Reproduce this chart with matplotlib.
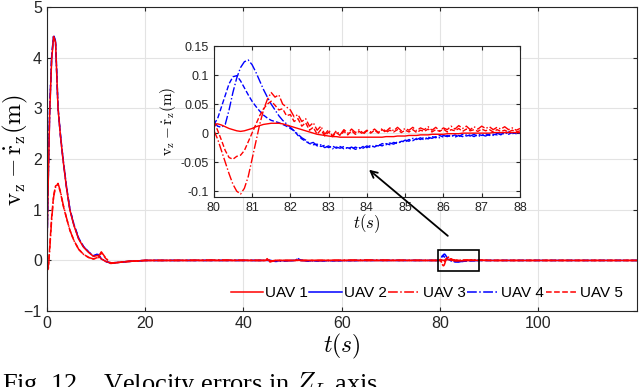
import numpy as np
import matplotlib.pyplot as plt
from matplotlib.lines import Line2D
from matplotlib.patches import Rectangle

plt.rcParams['font.family'] = 'Liberation Sans'
plt.rcParams['mathtext.fontset'] = 'cm'

# time grids
t_early = [0, 0.3, 0.6, 1.0, 1.4, 1.8, 2.3, 2.8, 3.3, 4.0, 4.7, 5.5, 6.5, 7.5,
           8.5, 9.5, 10.4, 11.1, 12.0, 13.0, 14.5, 16.5, 20]
t_mid = [25, 35, 44.5, 45.0, 45.4, 46.5, 50.5, 51.0, 51.6, 53.0, 65, 79.9]
t_zoom = np.round(np.arange(80.0, 88.01, 0.1), 1)
t_late = [90, 100, 110, 120]

# UAV 1 (red solid)
uav1_early = [0, 1.5, 2.9, 3.95, 4.42, 4.3, 3.0, 2.45, 2.0, 1.45, 1.0, 0.7, 0.42, 0.26,
              0.16, 0.08, 0.1, 0.03, -0.02, -0.05, -0.04, -0.02, 0.0]
uav1_mid = [0.0, 0.0, 0.0, 0.01, -0.01, 0.0, 0.0, 0.01, 0.0, 0.0, 0.0, 0.0]
uav1_zoom = [0.015, 0.016, 0.014, 0.011, 0.008, 0.006, 0.004, 0.003, 0.004, 0.006,
             0.008, 0.011, 0.013, 0.015, 0.016, 0.017, 0.017, 0.017, 0.016, 0.014,
             0.012, 0.010, 0.008, 0.006, 0.004, 0.002, 0.000, -0.002, -0.003, -0.004,
             -0.005, -0.006, -0.006, -0.007, -0.007, -0.007, -0.007, -0.007, -0.007, -0.007,
             -0.007, -0.007, -0.007, -0.007, -0.007, -0.006, -0.006, -0.006, -0.005, -0.005,
             -0.005, -0.004, -0.004, -0.004, -0.003, -0.003, -0.003, -0.002, -0.002, -0.002,
             -0.002, -0.001, -0.001, -0.001, -0.001, 0.000, 0.000, 0.000, 0.000, 0.000,
             0.000, 0.000, 0.000, 0.001, 0.001, 0.001, 0.001, 0.001, 0.001, 0.001,
             0.001]
uav1_late = [0.0, 0.0, 0.0, 0.0]

# UAV 2 (blue)
uav2_early = [0, 1.6, 3.0, 4.0, 4.45, 4.32, 3.02, 2.47, 2.02, 1.47, 1.02, 0.72, 0.44, 0.27,
              0.17, 0.09, 0.13, 0.03, -0.02, -0.05, -0.04, -0.02, 0.0]
uav2_mid = [0.0, 0.0, 0.0, 0.0, 0.0, -0.01, 0.0, 0.04, 0.01, -0.01, 0.0, 0.0]
uav2_zoom = [0.015, 0.025, 0.045, 0.065, 0.085, 0.097, 0.099, 0.090, 0.078, 0.066,
             0.055, 0.046, 0.038, 0.031, 0.026, 0.022, 0.020, 0.018, 0.015, 0.012,
             0.008, 0.004, -0.004, -0.010, -0.014, -0.018, -0.020, -0.019, -0.023, -0.021,
             -0.025, -0.022, -0.026, -0.023, -0.027, -0.025, -0.028, -0.024, -0.027, -0.023,
             -0.025, -0.021, -0.024, -0.020, -0.022, -0.018, -0.020, -0.016, -0.018, -0.014,
             -0.015, -0.011, -0.013, -0.009, -0.011, -0.007, -0.010, -0.006, -0.008, -0.004,
             -0.007, -0.004, -0.006, -0.003, -0.006, -0.002, -0.005, -0.003, -0.006, -0.002,
             -0.004, -0.001, -0.004, -0.002, -0.003, 0.001, -0.002, 0.002, -0.001, 0.001,
             0.000]
uav2_late = [0.0, 0.0, 0.0, 0.0]

# UAV 3 (red dash-dot)
uav3_early = [0, -0.2, 0.2, 0.8, 1.25, 1.45, 1.52, 1.36, 1.12, 0.85, 0.6, 0.4, 0.22, 0.12,
              0.06, 0.03, 0.05, 0.17, 0.05, -0.06, -0.04, -0.02, 0.0]
uav3_mid = [0.0, 0.01, 0.0, 0.05, -0.03, 0.0, 0.0, 0.01, 0.0, 0.0, 0.01, 0.0]
uav3_zoom = [0.005, -0.010, -0.030, -0.050, -0.070, -0.088, -0.100, -0.105, -0.095, -0.075,
             -0.045, -0.015, 0.015, 0.040, 0.058, 0.070, 0.062, 0.066, 0.050, 0.045,
             0.040, 0.028, 0.032, 0.020, 0.025, 0.012, 0.018, 0.005, 0.012, -0.002,
             0.006, -0.005, 0.004, -0.003, 0.006, 0.000, 0.007, 0.001, 0.006, 0.000,
             0.005, 0.002, 0.007, 0.001, 0.008, 0.003, 0.009, 0.004, 0.010, 0.004,
             0.008, 0.005, 0.010, 0.004, 0.009, 0.006, 0.011, 0.005, 0.010, 0.004,
             0.009, 0.006, 0.012, 0.007, 0.013, 0.008, 0.012, 0.006, 0.011, 0.007,
             0.012, 0.008, 0.011, 0.006, 0.010, 0.007, 0.011, 0.006, 0.009, 0.005,
             0.008]
uav3_late = [0.0, 0.0, 0.0, 0.0]

# UAV 4 (blue dash-dot)
uav4_early = [0, 1.55, 2.95, 4.0, 4.44, 4.31, 3.0, 2.46, 2.01, 1.46, 1.01, 0.71, 0.43, 0.27,
              0.17, 0.09, 0.12, 0.04, -0.02, -0.05, -0.04, -0.02, 0.0]
uav4_mid = [0.0, 0.0, 0.0, 0.0, 0.0, -0.02, 0.0, 0.03, 0.0, -0.01, 0.0, 0.0]
uav4_zoom = [0.020, 0.012, 0.010, 0.015, 0.040, 0.070, 0.095, 0.113, 0.123, 0.126,
             0.118, 0.105, 0.090, 0.075, 0.062, 0.050, 0.040, 0.030, 0.022, 0.016,
             0.010, 0.004, -0.002, -0.008, -0.012, -0.018, -0.016, -0.022, -0.020, -0.025,
             -0.022, -0.027, -0.024, -0.026, -0.023, -0.027, -0.024, -0.028, -0.025, -0.026,
             -0.022, -0.025, -0.021, -0.022, -0.018, -0.020, -0.017, -0.019, -0.015, -0.016,
             -0.012, -0.014, -0.009, -0.011, -0.008, -0.012, -0.007, -0.009, -0.006, -0.008,
             -0.004, -0.006, -0.003, -0.007, -0.004, -0.006, -0.003, -0.005, -0.002, -0.006,
             -0.003, -0.005, -0.002, -0.004, 0.000, -0.003, 0.002, -0.002, 0.001, -0.001,
             0.000]
uav4_late = [0.0, 0.0, 0.0, 0.0]

# UAV 5 (red dashed)
uav5_early = [0, -0.15, 0.25, 0.85, 1.28, 1.47, 1.5, 1.34, 1.1, 0.84, 0.6, 0.4, 0.22, 0.12,
              0.06, 0.03, 0.06, 0.15, 0.04, -0.05, -0.04, -0.02, 0.0]
uav5_mid = [0.0, 0.0, 0.0, 0.04, -0.02, 0.0, 0.0, 0.0, 0.0, 0.0, 0.0, 0.0]
uav5_zoom = [0.020, 0.005, -0.012, -0.030, -0.042, -0.045, -0.040, -0.038, -0.030, -0.015,
             0.000, 0.015, 0.030, 0.042, 0.050, 0.055, 0.048, 0.040, 0.042, 0.030,
             0.032, 0.020, 0.025, 0.012, 0.018, 0.005, 0.010, -0.002, 0.006, -0.005,
             0.002, -0.006, 0.001, -0.004, 0.003, -0.003, 0.004, -0.002, 0.003, -0.002,
             0.004, 0.000, 0.005, 0.000, 0.006, 0.001, 0.005, 0.002, 0.006, 0.001,
             0.005, 0.002, 0.006, 0.001, 0.005, 0.003, 0.007, 0.002, 0.006, 0.003,
             0.007, 0.002, 0.006, 0.004, 0.008, 0.003, 0.007, 0.004, 0.006, 0.003,
             0.007, 0.004, 0.006, 0.002, 0.006, 0.003, 0.005, 0.002, 0.005, 0.002,
             0.004]
uav5_late = [0.0, 0.0, 0.0, 0.0]

labels = ['UAV 1', 'UAV 2', 'UAV 3', 'UAV 4', 'UAV 5']
colors = ['#ff0000', '#0000ff', '#ff0000', '#0000ff', '#ff0000']
styles = ['-', '--', '-.', '-.', '--']
legend_styles = ['-', '-', '-.', '-.', '--']

zoom_t = (80, 88)
zoom_box_y = (-0.2, 0.2)


def full(early, mid, zoom, late):
    t = np.concatenate([t_early, t_mid, t_zoom, t_late])
    v = np.concatenate([early, mid, zoom, late])
    return t, v


series = [
    full(uav1_early, uav1_mid, uav1_zoom, uav1_late),
    full(uav2_early, uav2_mid, uav2_zoom, uav2_late),
    full(uav3_early, uav3_mid, uav3_zoom, uav3_late),
    full(uav4_early, uav4_mid, uav4_zoom, uav4_late),
    full(uav5_early, uav5_mid, uav5_zoom, uav5_late),
]
zooms = [uav1_zoom, uav2_zoom, uav3_zoom, uav4_zoom, uav5_zoom]

axis_col = '#262626'
grid_col = '#e3e3e3'


def style_axes(a, size):
    a.grid(True, color=grid_col, lw=0.8)
    a.set_axisbelow(True)
    a.tick_params(direction='in', colors=axis_col, labelsize=size, length=3,
                  top=True, right=True)
    for s in a.spines.values():
        s.set_color(axis_col)
        s.set_linewidth(0.8)


fig = plt.figure(figsize=(6.4, 3.87), dpi=100)
ax = fig.add_axes([0.073, 0.196, 0.922, 0.786])

# draw order so that red lines sit on top of blue like the original
for i in [1, 3, 0, 2, 4]:
    t, v = series[i]
    ax.plot(t, v, color=colors[i], ls=styles[i], lw=1.1)

ax.set_xlim(0, 120)
ax.set_ylim(-1, 5)
ax.set_xticks([0, 20, 40, 60, 80, 100])
ax.set_yticks([-1, 0, 1, 2, 3, 4, 5])
style_axes(ax, 11.5)
ax.set_xlabel(r'$t(s)$', fontsize=17, labelpad=1)
ax.set_ylabel(r'$\mathrm{v_z} - \dot{\mathrm{r}}_\mathrm{z}\mathrm{(m)}$', fontsize=18)
ax.yaxis.set_label_coords(-0.028, 0.53)

ax.add_patch(Rectangle((zoom_t[0] - 0.4, zoom_box_y[0]), zoom_t[1] - zoom_t[0] + 0.4,
                       zoom_box_y[1] - zoom_box_y[0], fill=False, ec='black', lw=1.2,
                       zorder=5))

handles = [Line2D([], [], color=colors[i], ls=legend_styles[i], lw=1.1) for i in range(5)]
ax.legend(handles, labels, loc='lower right', ncol=5, frameon=False, fontsize=11,
          handlelength=2.1, handletextpad=0.15, columnspacing=0.1,
          bbox_to_anchor=(1.0, -0.01))

# inset
axins = fig.add_axes([0.334, 0.491, 0.4785, 0.39])
for i in [1, 3, 0, 2, 4]:
    axins.plot(t_zoom, zooms[i], color=colors[i], ls=styles[i], lw=1.0)
axins.set_xlim(*zoom_t)
axins.set_ylim(-0.11, 0.15)
axins.set_xticks(range(80, 89))
axins.set_yticks([-0.1, -0.05, 0, 0.05, 0.1, 0.15])
axins.set_yticklabels(['-0.1', '-0.05', '0', '0.05', '0.1', '0.15'])
style_axes(axins, 9)
axins.set_xlabel(r'$t(s)$', fontsize=12, labelpad=-1)
axins.set_ylabel(r'$\mathrm{v_z} - \dot{\mathrm{r}}_\mathrm{z}\mathrm{(m)}$', fontsize=11,
                 labelpad=2)

axins.annotate('', xy=(84, -0.06), xycoords='data',
               xytext=(82, 0.45), textcoords=ax.transData,
               arrowprops=dict(arrowstyle='->', color='black', lw=1.3,
                               mutation_scale=12),
               annotation_clip=False)

fig.text(0.003, 0.044, r'Fig. 12.   Velocity errors in $Z_L$ axis', fontsize=19,
         family='Liberation Serif', va='top', ha='left')

fig.savefig('out.png', dpi=100)
